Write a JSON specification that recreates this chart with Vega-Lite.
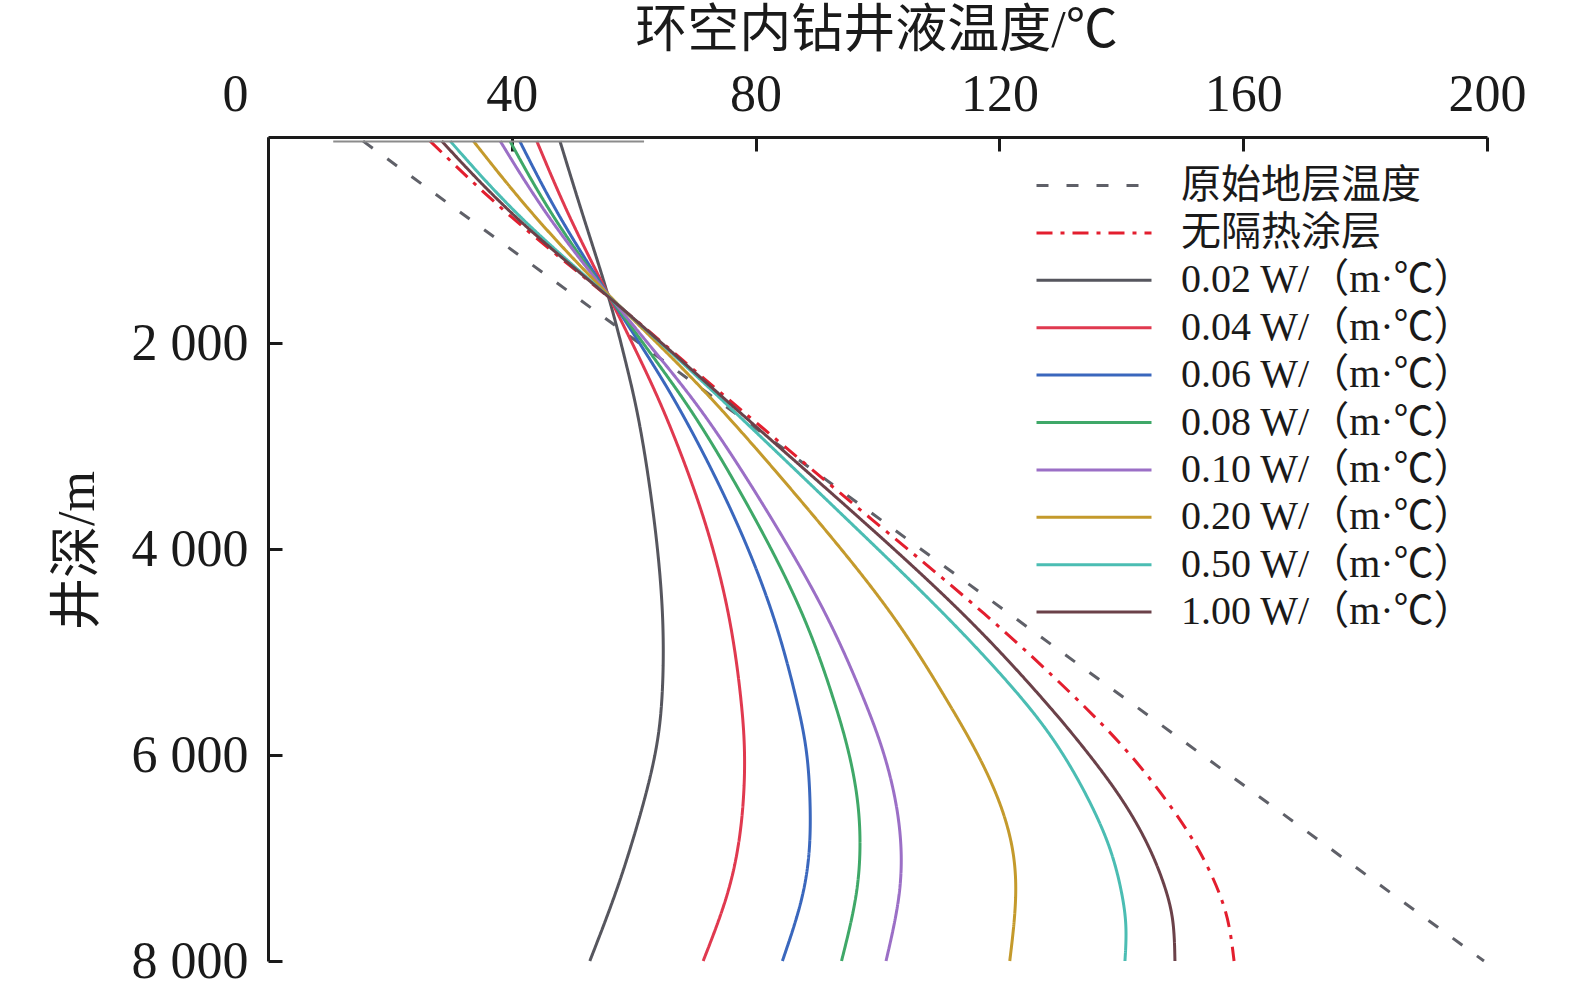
{
  "$schema": "https://vega.github.io/schema/vega-lite/v6.json",
  "width": 1219,
  "height": 824,
  "autosize": {"type": "none"},
  "padding": {"left": 268, "top": 137, "right": 88, "bottom": 33},
  "config": {"view": {"stroke": null}, "font": "Liberation Serif"},
  "layer": [
    {
      "data": {
        "values": [
          {"s": "原始地层温度", "d": 40, "t": 15.6}, {"s": "原始地层温度", "d": 8000, "t": 199.5},
          {"s": "无隔热涂层", "d": 40, "t": 26.6}, {"s": "无隔热涂层", "d": 774, "t": 39.4}, {"s": "无隔热涂层", "d": 1550, "t": 56}, {"s": "无隔热涂层", "d": 2184, "t": 68.3}, {"s": "无隔热涂层", "d": 2748, "t": 79.6}, {"s": "无隔热涂层", "d": 3718, "t": 99.1}, {"s": "无隔热涂层", "d": 4650, "t": 118.3}, {"s": "无隔热涂层", "d": 5466, "t": 133}, {"s": "无隔热涂层", "d": 5951, "t": 141}, {"s": "无隔热涂层", "d": 6437, "t": 147.5}, {"s": "无隔热涂层", "d": 6922, "t": 153}, {"s": "无隔热涂层", "d": 7408, "t": 156.7}, {"s": "无隔热涂层", "d": 7700, "t": 157.9}, {"s": "无隔热涂层", "d": 8000, "t": 158.5},
          {"s": "0.02 W/（m·℃）", "d": 40, "t": 47.9}, {"s": "0.02 W/（m·℃）", "d": 774, "t": 51.7}, {"s": "0.02 W/（m·℃）", "d": 1550, "t": 56}, {"s": "0.02 W/（m·℃）", "d": 2184, "t": 58.7}, {"s": "0.02 W/（m·℃）", "d": 2748, "t": 61}, {"s": "0.02 W/（m·℃）", "d": 3718, "t": 63.5}, {"s": "0.02 W/（m·℃）", "d": 4650, "t": 65}, {"s": "0.02 W/（m·℃）", "d": 5466, "t": 64.8}, {"s": "0.02 W/（m·℃）", "d": 5951, "t": 63.8}, {"s": "0.02 W/（m·℃）", "d": 6437, "t": 61.8}, {"s": "0.02 W/（m·℃）", "d": 6922, "t": 59.4}, {"s": "0.02 W/（m·℃）", "d": 7408, "t": 56.7}, {"s": "0.02 W/（m·℃）", "d": 8000, "t": 52.8},
          {"s": "0.04 W/（m·℃）", "d": 40, "t": 44.1}, {"s": "0.04 W/（m·℃）", "d": 774, "t": 49.3}, {"s": "0.04 W/（m·℃）", "d": 1550, "t": 56}, {"s": "0.04 W/（m·℃）", "d": 2184, "t": 61.3}, {"s": "0.04 W/（m·℃）", "d": 2748, "t": 65.7}, {"s": "0.04 W/（m·℃）", "d": 3718, "t": 71.9}, {"s": "0.04 W/（m·℃）", "d": 4650, "t": 75.9}, {"s": "0.04 W/（m·℃）", "d": 5466, "t": 77.7}, {"s": "0.04 W/（m·℃）", "d": 5951, "t": 78.3}, {"s": "0.04 W/（m·℃）", "d": 6437, "t": 78.1}, {"s": "0.04 W/（m·℃）", "d": 6922, "t": 77.2}, {"s": "0.04 W/（m·℃）", "d": 7408, "t": 75.3}, {"s": "0.04 W/（m·℃）", "d": 8000, "t": 71.4},
          {"s": "0.06 W/（m·℃）", "d": 40, "t": 41.3}, {"s": "0.06 W/（m·℃）", "d": 774, "t": 47.6}, {"s": "0.06 W/（m·℃）", "d": 1550, "t": 56}, {"s": "0.06 W/（m·℃）", "d": 2184, "t": 63}, {"s": "0.06 W/（m·℃）", "d": 2748, "t": 68.7}, {"s": "0.06 W/（m·℃）", "d": 3718, "t": 77}, {"s": "0.06 W/（m·℃）", "d": 4650, "t": 83.2}, {"s": "0.06 W/（m·℃）", "d": 5466, "t": 86.8}, {"s": "0.06 W/（m·℃）", "d": 5951, "t": 88.5}, {"s": "0.06 W/（m·℃）", "d": 6437, "t": 89}, {"s": "0.06 W/（m·℃）", "d": 6922, "t": 89}, {"s": "0.06 W/（m·℃）", "d": 7408, "t": 87.8}, {"s": "0.06 W/（m·℃）", "d": 8000, "t": 84.4},
          {"s": "0.08 W/（m·℃）", "d": 40, "t": 39.7}, {"s": "0.08 W/（m·℃）", "d": 774, "t": 46.5}, {"s": "0.08 W/（m·℃）", "d": 1550, "t": 56}, {"s": "0.08 W/（m·℃）", "d": 2184, "t": 63.8}, {"s": "0.08 W/（m·℃）", "d": 2748, "t": 70.7}, {"s": "0.08 W/（m·℃）", "d": 3718, "t": 80.2}, {"s": "0.08 W/（m·℃）", "d": 4650, "t": 88.2}, {"s": "0.08 W/（m·℃）", "d": 5466, "t": 92.9}, {"s": "0.08 W/（m·℃）", "d": 5951, "t": 95.3}, {"s": "0.08 W/（m·℃）", "d": 6437, "t": 96.9}, {"s": "0.08 W/（m·℃）", "d": 6922, "t": 97.3}, {"s": "0.08 W/（m·℃）", "d": 7408, "t": 96.6}, {"s": "0.08 W/（m·℃）", "d": 8000, "t": 94.1},
          {"s": "0.10 W/（m·℃）", "d": 40, "t": 38.1}, {"s": "0.10 W/（m·℃）", "d": 774, "t": 45.7}, {"s": "0.10 W/（m·℃）", "d": 1550, "t": 56}, {"s": "0.10 W/（m·℃）", "d": 2184, "t": 64.9}, {"s": "0.10 W/（m·℃）", "d": 2748, "t": 72.5}, {"s": "0.10 W/（m·℃）", "d": 3718, "t": 82.9}, {"s": "0.10 W/（m·℃）", "d": 4650, "t": 92}, {"s": "0.10 W/（m·℃）", "d": 5466, "t": 97.9}, {"s": "0.10 W/（m·℃）", "d": 5951, "t": 101}, {"s": "0.10 W/（m·℃）", "d": 6437, "t": 103.1}, {"s": "0.10 W/（m·℃）", "d": 6922, "t": 104.1}, {"s": "0.10 W/（m·℃）", "d": 7408, "t": 103.7}, {"s": "0.10 W/（m·℃）", "d": 8000, "t": 101.4},
          {"s": "0.20 W/（m·℃）", "d": 40, "t": 33.7}, {"s": "0.20 W/（m·℃）", "d": 774, "t": 43.5}, {"s": "0.20 W/（m·℃）", "d": 1550, "t": 56}, {"s": "0.20 W/（m·℃）", "d": 2184, "t": 67.1}, {"s": "0.20 W/（m·℃）", "d": 2748, "t": 76.1}, {"s": "0.20 W/（m·℃）", "d": 3718, "t": 90.2}, {"s": "0.20 W/（m·℃）", "d": 4650, "t": 103}, {"s": "0.20 W/（m·℃）", "d": 5466, "t": 111.4}, {"s": "0.20 W/（m·℃）", "d": 5951, "t": 116.2}, {"s": "0.20 W/（m·℃）", "d": 6437, "t": 120.1}, {"s": "0.20 W/（m·℃）", "d": 6922, "t": 122.5}, {"s": "0.20 W/（m·℃）", "d": 7408, "t": 122.9}, {"s": "0.20 W/（m·℃）", "d": 8000, "t": 121.7},
          {"s": "0.50 W/（m·℃）", "d": 40, "t": 29.9}, {"s": "0.50 W/（m·℃）", "d": 774, "t": 40.8}, {"s": "0.50 W/（m·℃）", "d": 1550, "t": 56}, {"s": "0.50 W/（m·℃）", "d": 2184, "t": 67.9}, {"s": "0.50 W/（m·℃）", "d": 2748, "t": 78}, {"s": "0.50 W/（m·℃）", "d": 3718, "t": 95.1}, {"s": "0.50 W/（m·℃）", "d": 4650, "t": 111.5}, {"s": "0.50 W/（m·℃）", "d": 5466, "t": 124.2}, {"s": "0.50 W/（m·℃）", "d": 5951, "t": 130.2}, {"s": "0.50 W/（m·℃）", "d": 6437, "t": 134.8}, {"s": "0.50 W/（m·℃）", "d": 6922, "t": 138.5}, {"s": "0.50 W/（m·℃）", "d": 7408, "t": 140.4}, {"s": "0.50 W/（m·℃）", "d": 7700, "t": 140.9}, {"s": "0.50 W/（m·℃）", "d": 8000, "t": 140.6},
          {"s": "1.00 W/（m·℃）", "d": 40, "t": 28.5}, {"s": "1.00 W/（m·℃）", "d": 774, "t": 40}, {"s": "1.00 W/（m·℃）", "d": 1550, "t": 56}, {"s": "1.00 W/（m·℃）", "d": 2184, "t": 68.1}, {"s": "1.00 W/（m·℃）", "d": 2748, "t": 78.8}, {"s": "1.00 W/（m·℃）", "d": 3718, "t": 97.5}, {"s": "1.00 W/（m·℃）", "d": 4650, "t": 114.8}, {"s": "1.00 W/（m·℃）", "d": 5466, "t": 127.4}, {"s": "1.00 W/（m·℃）", "d": 5951, "t": 134.2}, {"s": "1.00 W/（m·℃）", "d": 6437, "t": 140.4}, {"s": "1.00 W/（m·℃）", "d": 6922, "t": 145}, {"s": "1.00 W/（m·℃）", "d": 7408, "t": 148}, {"s": "1.00 W/（m·℃）", "d": 7700, "t": 148.7}, {"s": "1.00 W/（m·℃）", "d": 8000, "t": 148.8}
        ]
      },
      "mark": {"type": "line", "interpolate": "basis", "strokeWidth": 3},
      "encoding": {
        "x": {
          "field": "t",
          "type": "quantitative",
          "title": "环空内钻井液温度/℃",
          "scale": {"domain": [0, 200], "nice": false, "zero": false},
          "axis": {
            "orient": "top",
            "values": [0, 40, 80, 120, 160, 200],
            "titleFont": "Liberation Serif, Noto Sans CJK SC",
            "titleFontSize": 52,
            "titleFontWeight": "normal",
            "titleColor": "#1a1a1a",
            "titleX": 608,
            "titleY": -107,
            "titleAlign": "center",
            "titleBaseline": "middle",
            "labelFont": "Liberation Serif",
            "labelFontSize": 52,
            "labelColor": "#1a1a1a",
            "labelPadding": 30,
            "labelFlush": false,
            "labelOverlap": false,
            "labelOffset": {"condition": {"test": "datum.value === 0", "value": -33}, "value": 0},
            "tickSize": -14,
            "tickWidth": 3,
            "tickColor": "#1a1a1a",
            "domainColor": "#1a1a1a",
            "domainWidth": 3,
            "grid": false
          }
        },
        "y": {
          "field": "d",
          "type": "quantitative",
          "title": "井深/m",
          "scale": {"domain": [0, 8000], "reverse": true, "nice": false},
          "axis": {
            "orient": "left",
            "values": [2000, 4000, 6000, 8000],
            "labelExpr": "replace(format(datum.value, ','), ',', ' ')",
            "titleFont": "Liberation Serif, Noto Sans CJK SC",
            "titleFontSize": 52,
            "titleFontWeight": "normal",
            "titleColor": "#1a1a1a",
            "titleAngle": -90,
            "titleX": -191,
            "titleY": 413,
            "titleAlign": "center",
            "titleBaseline": "middle",
            "labelFont": "Liberation Serif",
            "labelFontSize": 52,
            "labelColor": "#1a1a1a",
            "labelPadding": 34,
            "labelOverlap": false,
            "tickSize": -14,
            "tickWidth": 3,
            "tickColor": "#1a1a1a",
            "domainColor": "#1a1a1a",
            "domainWidth": 3,
            "grid": false
          }
        },
        "color": {
          "field": "s",
          "type": "nominal",
          "scale": {
            "domain": ["原始地层温度", "无隔热涂层", "0.02 W/（m·℃）", "0.04 W/（m·℃）", "0.06 W/（m·℃）", "0.08 W/（m·℃）", "0.10 W/（m·℃）", "0.20 W/（m·℃）", "0.50 W/（m·℃）", "1.00 W/（m·℃）"],
            "range": ["#5f6068", "#e31e2e", "#56565e", "#e0394f", "#3a67bd", "#3fa868", "#9b6fc6", "#c49a2c", "#4bbdb3", "#6b4149"]
          },
          "legend": {
            "title": null,
            "orient": "none",
            "legendX": 806,
            "legendY": 28.5,
            "padding": 0,
            "symbolType": "M-5,0H5",
            "symbolSize": 529,
            "symbolStrokeWidth": 3,
            "labelFont": "Liberation Serif, Noto Sans CJK SC",
            "labelFontSize": 40,
            "labelColor": "#1a1a1a",
            "labelOffset": 67,
            "labelLimit": 0,
            "rowPadding": 7.4
          }
        },
        "strokeDash": {
          "field": "s",
          "type": "nominal",
          "scale": {
            "domain": ["原始地层温度", "无隔热涂层", "0.02 W/（m·℃）", "0.04 W/（m·℃）", "0.06 W/（m·℃）", "0.08 W/（m·℃）", "0.10 W/（m·℃）", "0.20 W/（m·℃）", "0.50 W/（m·℃）", "1.00 W/（m·℃）"],
            "range": [[12, 18], [16, 8, 4, 8], [1, 0], [1, 0], [1, 0], [1, 0], [1, 0], [1, 0], [1, 0], [1, 0]]
          },
          "legend": {
            "title": null,
            "orient": "none",
            "legendX": 806,
            "legendY": 28.5,
            "padding": 0,
            "symbolType": "M-5,0H5",
            "symbolSize": 529,
            "symbolStrokeWidth": 3,
            "labelFont": "Liberation Serif, Noto Sans CJK SC",
            "labelFontSize": 40,
            "labelColor": "#1a1a1a",
            "labelOffset": 67,
            "labelLimit": 0,
            "rowPadding": 7.4
          }
        },
        "order": {"field": "d", "type": "quantitative"}
      }
    },
    {
      "data": {"values": [{"d": 44, "t": 10.7, "t2": 61.7}]},
      "mark": {"type": "rule", "color": "#8c8c8c", "strokeWidth": 2},
      "encoding": {
        "x": {"field": "t", "type": "quantitative", "title": "环空内钻井液温度/℃"},
        "x2": {"field": "t2"},
        "y": {"field": "d", "type": "quantitative", "title": "井深/m"}
      }
    }
  ]
}
